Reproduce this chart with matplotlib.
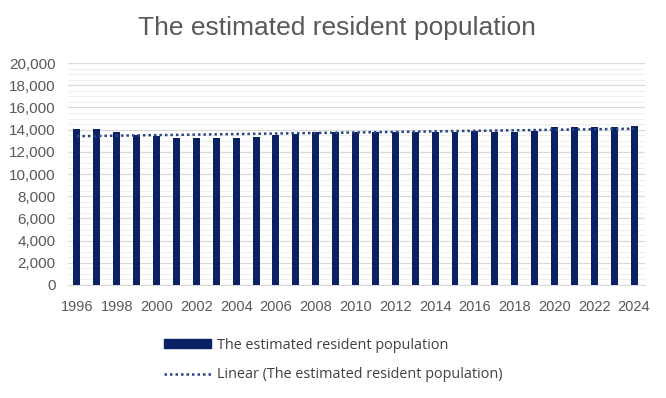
import numpy as np
import matplotlib
matplotlib.use("Agg")
import matplotlib.pyplot as plt
from matplotlib.patches import Patch
from matplotlib.lines import Line2D

years = list(range(1996, 2025))
population = [14050, 14050, 13750, 13500, 13400, 13200, 13200, 13200, 13200, 13350,
              13500, 13600, 13750, 13750, 13800, 13800, 13800, 13750, 13750, 13750,
              13900, 13750, 13750, 13900, 14200, 14200, 14200, 14200, 14300]
tick_years = list(range(1996, 2025, 2))
title = "The estimated resident population"
series_label = "The estimated resident population"
trend_label = "Linear (The estimated resident population)"

plt.rcParams['font.family'] = ['Liberation Sans', 'DejaVu Sans']

fig = plt.figure(figsize=(6.66, 3.98), dpi=100)
ax = fig.add_axes([68/666, 113/398, 577/666, 222/398])

bar_color = "#0a2163"
trend_color = "#2a4586"
x = np.array(years)
y = np.array(population)
ax.bar(x, y, width=0.35, color=bar_color, zorder=3)

coef = np.polyfit(x, y, 1)
ax.plot(x, np.polyval(coef, x), linestyle=(0, (1, 1.2)), color=trend_color, linewidth=1.8, zorder=4)

ax.set_xlim(1995.55, 2024.55)
ax.set_ylim(0, 20000)
ax.set_yticks(np.arange(0, 20001, 2000))
ax.set_yticks(np.arange(0, 20001, 500), minor=True)
ax.set_yticklabels([f"{v:,}" for v in range(0, 20001, 2000)])
ax.set_xticks(tick_years)
ax.set_xticklabels([str(t) for t in tick_years])
ax.grid(axis='y', which='major', color="#d9d9d9", linewidth=0.9, zorder=0)
ax.grid(axis='y', which='minor', color="#eeeeee", linewidth=0.7, zorder=0)
ax.tick_params(axis='y', which='both', length=0, labelsize=11, colors="#595959", pad=9)
ax.tick_params(axis='x', which='both', length=0, pad=11, labelsize=10.5, colors="#595959")
for s in ['top', 'right', 'left']:
    ax.spines[s].set_visible(False)
ax.spines['bottom'].set_color("#d9d9d9")

fig.text(337/666, 1 - 28/398, title, ha='center', va='center', fontsize=19, color="#595959")

handles = [Patch(facecolor=bar_color, edgecolor=bar_color),
           Line2D([0], [0], linestyle=(0, (1, 1.2)), color=trend_color, linewidth=1.8)]
fig.legend(handles, [series_label, trend_label], loc='upper left',
           bbox_to_anchor=(164/666, 1 - 338/398), frameon=False,
           prop={'family': ['Open Sans', 'DejaVu Sans'], 'size': 10.4},
           labelcolor="#404040", handlelength=3.25, handleheight=0.6, labelspacing=1.0,
           handletextpad=0.45, borderpad=0, borderaxespad=0)

fig.savefig("out.png", dpi=100, facecolor="white")
